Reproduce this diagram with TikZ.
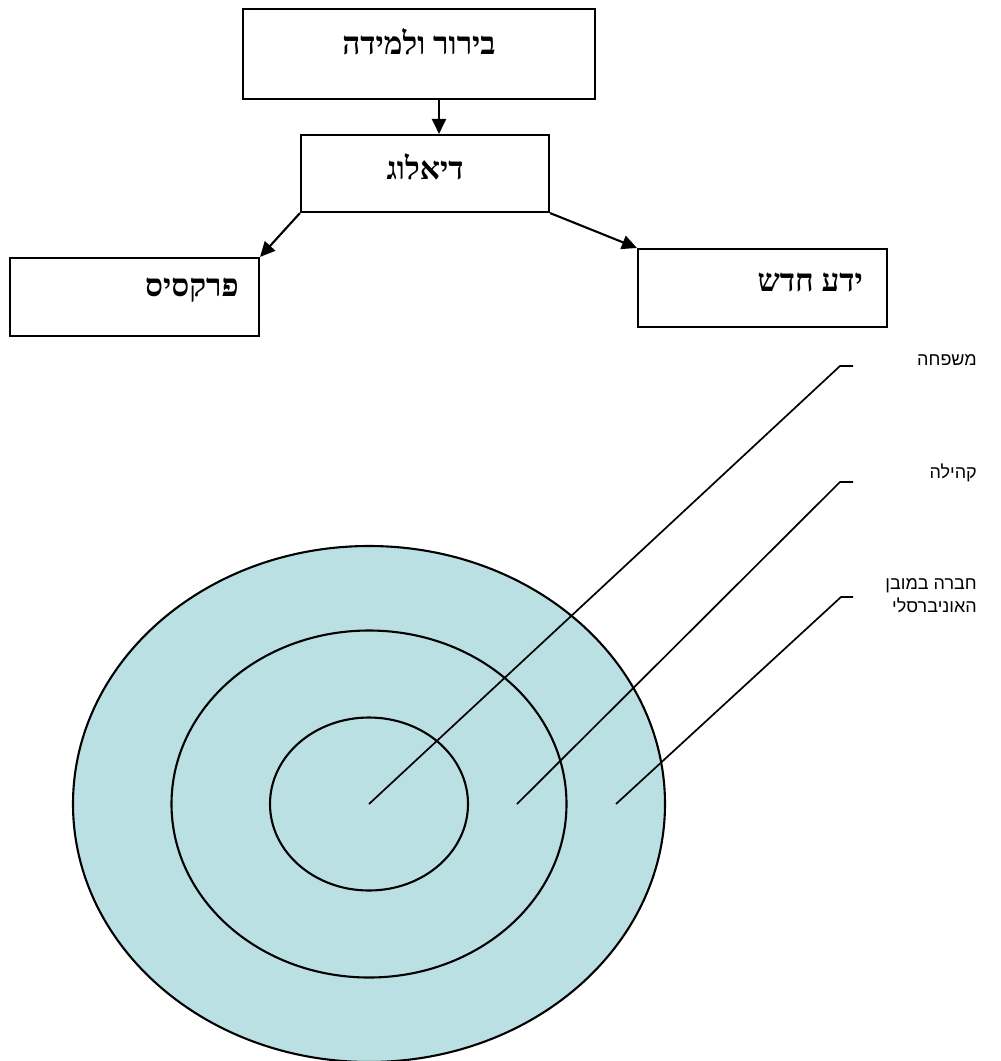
\documentclass[tikz,border=0pt]{standalone}
\usepackage{fontspec}
\usetikzlibrary{arrows.meta,shapes.geometric,calc}
\TeXXeTstate=1
\newfontfamily\hebserifbold[Script=Hebrew]{Liberation Serif Bold}
\newfontfamily\hebsans[Script=Hebrew]{Liberation Sans}
\definecolor{ringblue}{RGB}{187,224,227}
\begin{document}
\begin{tikzpicture}[x=1pt,y=-1pt,
  boxstyle/.style={draw, line width=2.1pt, inner sep=0pt, fill=white},
  boxtext/.style={inner sep=0pt, font=\hebserifbold\fontsize{31.5}{34}\selectfont},
  labtext/.style={inner sep=0pt, anchor=east, align=right, font=\hebsans\fontsize{18}{23}\selectfont},
  arrowline/.style={line width=2.1pt, -{Triangle[length=15pt,width=14pt]}},
  ring/.style={ellipse, draw, line width=2.1pt, fill=ringblue, inner sep=0pt},
  leader/.style={line width=1.7pt}]
\useasboundingbox (0,0) rectangle (1001,1061);

% boxes
\node[boxstyle, minimum width=352pt, minimum height=90pt] (b1) at (419,54) {};
\node[boxstyle, minimum width=248pt, minimum height=77pt] (b2) at (425,173.5) {};
\node[boxstyle, minimum width=249pt, minimum height=78pt] (b3) at (134.5,297) {};
\node[boxstyle, minimum width=249pt, minimum height=78pt] (b4) at (762.5,288) {};

\node[boxtext] (t1) at (419,42) {\beginR בירור ולמידה\endR};
\node[boxtext] (t2) at (425,167) {\beginR דיאלוג\endR};
\node[boxtext, anchor=east] (t3) at (239,290) {\beginR פרקסיס\endR};
\node[boxtext, anchor=east] (t4) at (863,282) {\beginR ידע חדש\endR};

% arrows
\draw[arrowline] ($(b1.south)+(20,0)$) -- ($(b2.north)+(14,0)$);
\draw[arrowline] (b2.south west) -- (b3.north east);
\draw[arrowline] (b2.south east) -- (b4.north west);

% rings
\node[ring, minimum width=592pt, minimum height=516pt] (outer) at (369,804) {};
\node[ring, minimum width=395pt, minimum height=347pt] (middle) at (369,804) {};
\node[ring, minimum width=198pt, minimum height=173pt] (inner) at (369,804) {};

% leaders
\coordinate (p1) at (369,804);
\coordinate (k1) at (840,366);
\coordinate (e1) at (853,366);
\coordinate (p2) at (517,804);
\coordinate (k2) at (840,482);
\coordinate (e2) at (853,482);
\coordinate (p3) at (616,804);
\coordinate (k3) at (841,597);
\coordinate (e3) at (853,597);
\draw[leader] (p1) -- (k1) -- (e1);
\draw[leader] (p2) -- (k2) -- (e2);
\draw[leader] (p3) -- (k3) -- (e3);

\node[labtext] (l1) at (977,360) {\beginR משפחה\endR};
\node[labtext] (l2) at (977,473) {\beginR קהילה\endR};
\node[labtext] (l3) at (977,596) {\beginR חברה במובן\endR\\\beginR האוניברסלי\endR};
\end{tikzpicture}
\end{document}
